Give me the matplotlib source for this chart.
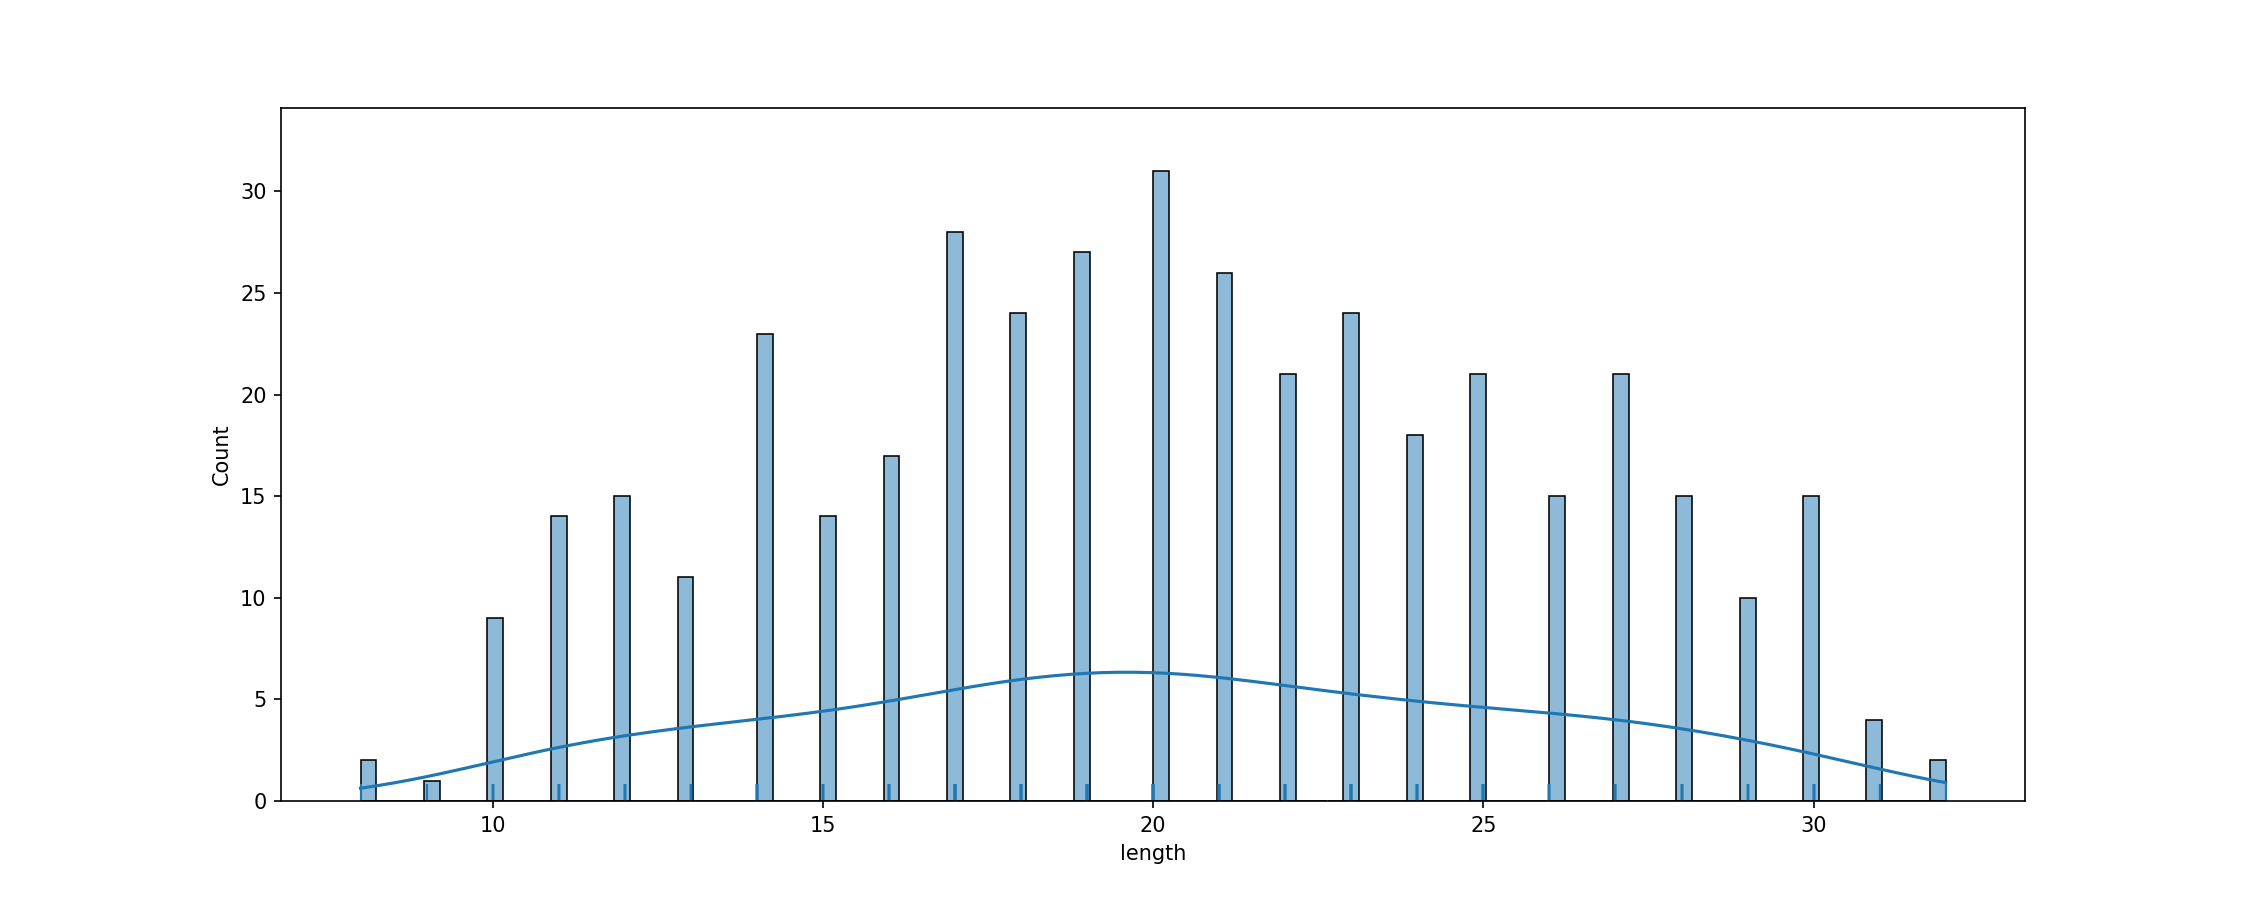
import numpy as np
import matplotlib
matplotlib.use("Agg")
import matplotlib.pyplot as plt
import seaborn as sns

# observed lengths and how often each one occurs
lengths = [8, 9, 10, 11, 12, 13, 14, 15, 16, 17, 18, 19, 20,
           21, 22, 23, 24, 25, 26, 27, 28, 29, 30, 31, 32]
counts = [2, 1, 9, 14, 15, 11, 23, 14, 17, 28, 24, 27, 31,
          26, 21, 24, 18, 21, 15, 21, 15, 10, 15, 4, 2]

length = np.repeat(lengths, counts)

fig, ax = plt.subplots(figsize=(15, 6))
sns.histplot(length, bins=100, kde=True, ax=ax)
sns.rugplot(length, ax=ax)
ax.set_xlabel("length")
ax.set_ylabel("Count")
plt.savefig("out.png", dpi=150)
plt.close()
